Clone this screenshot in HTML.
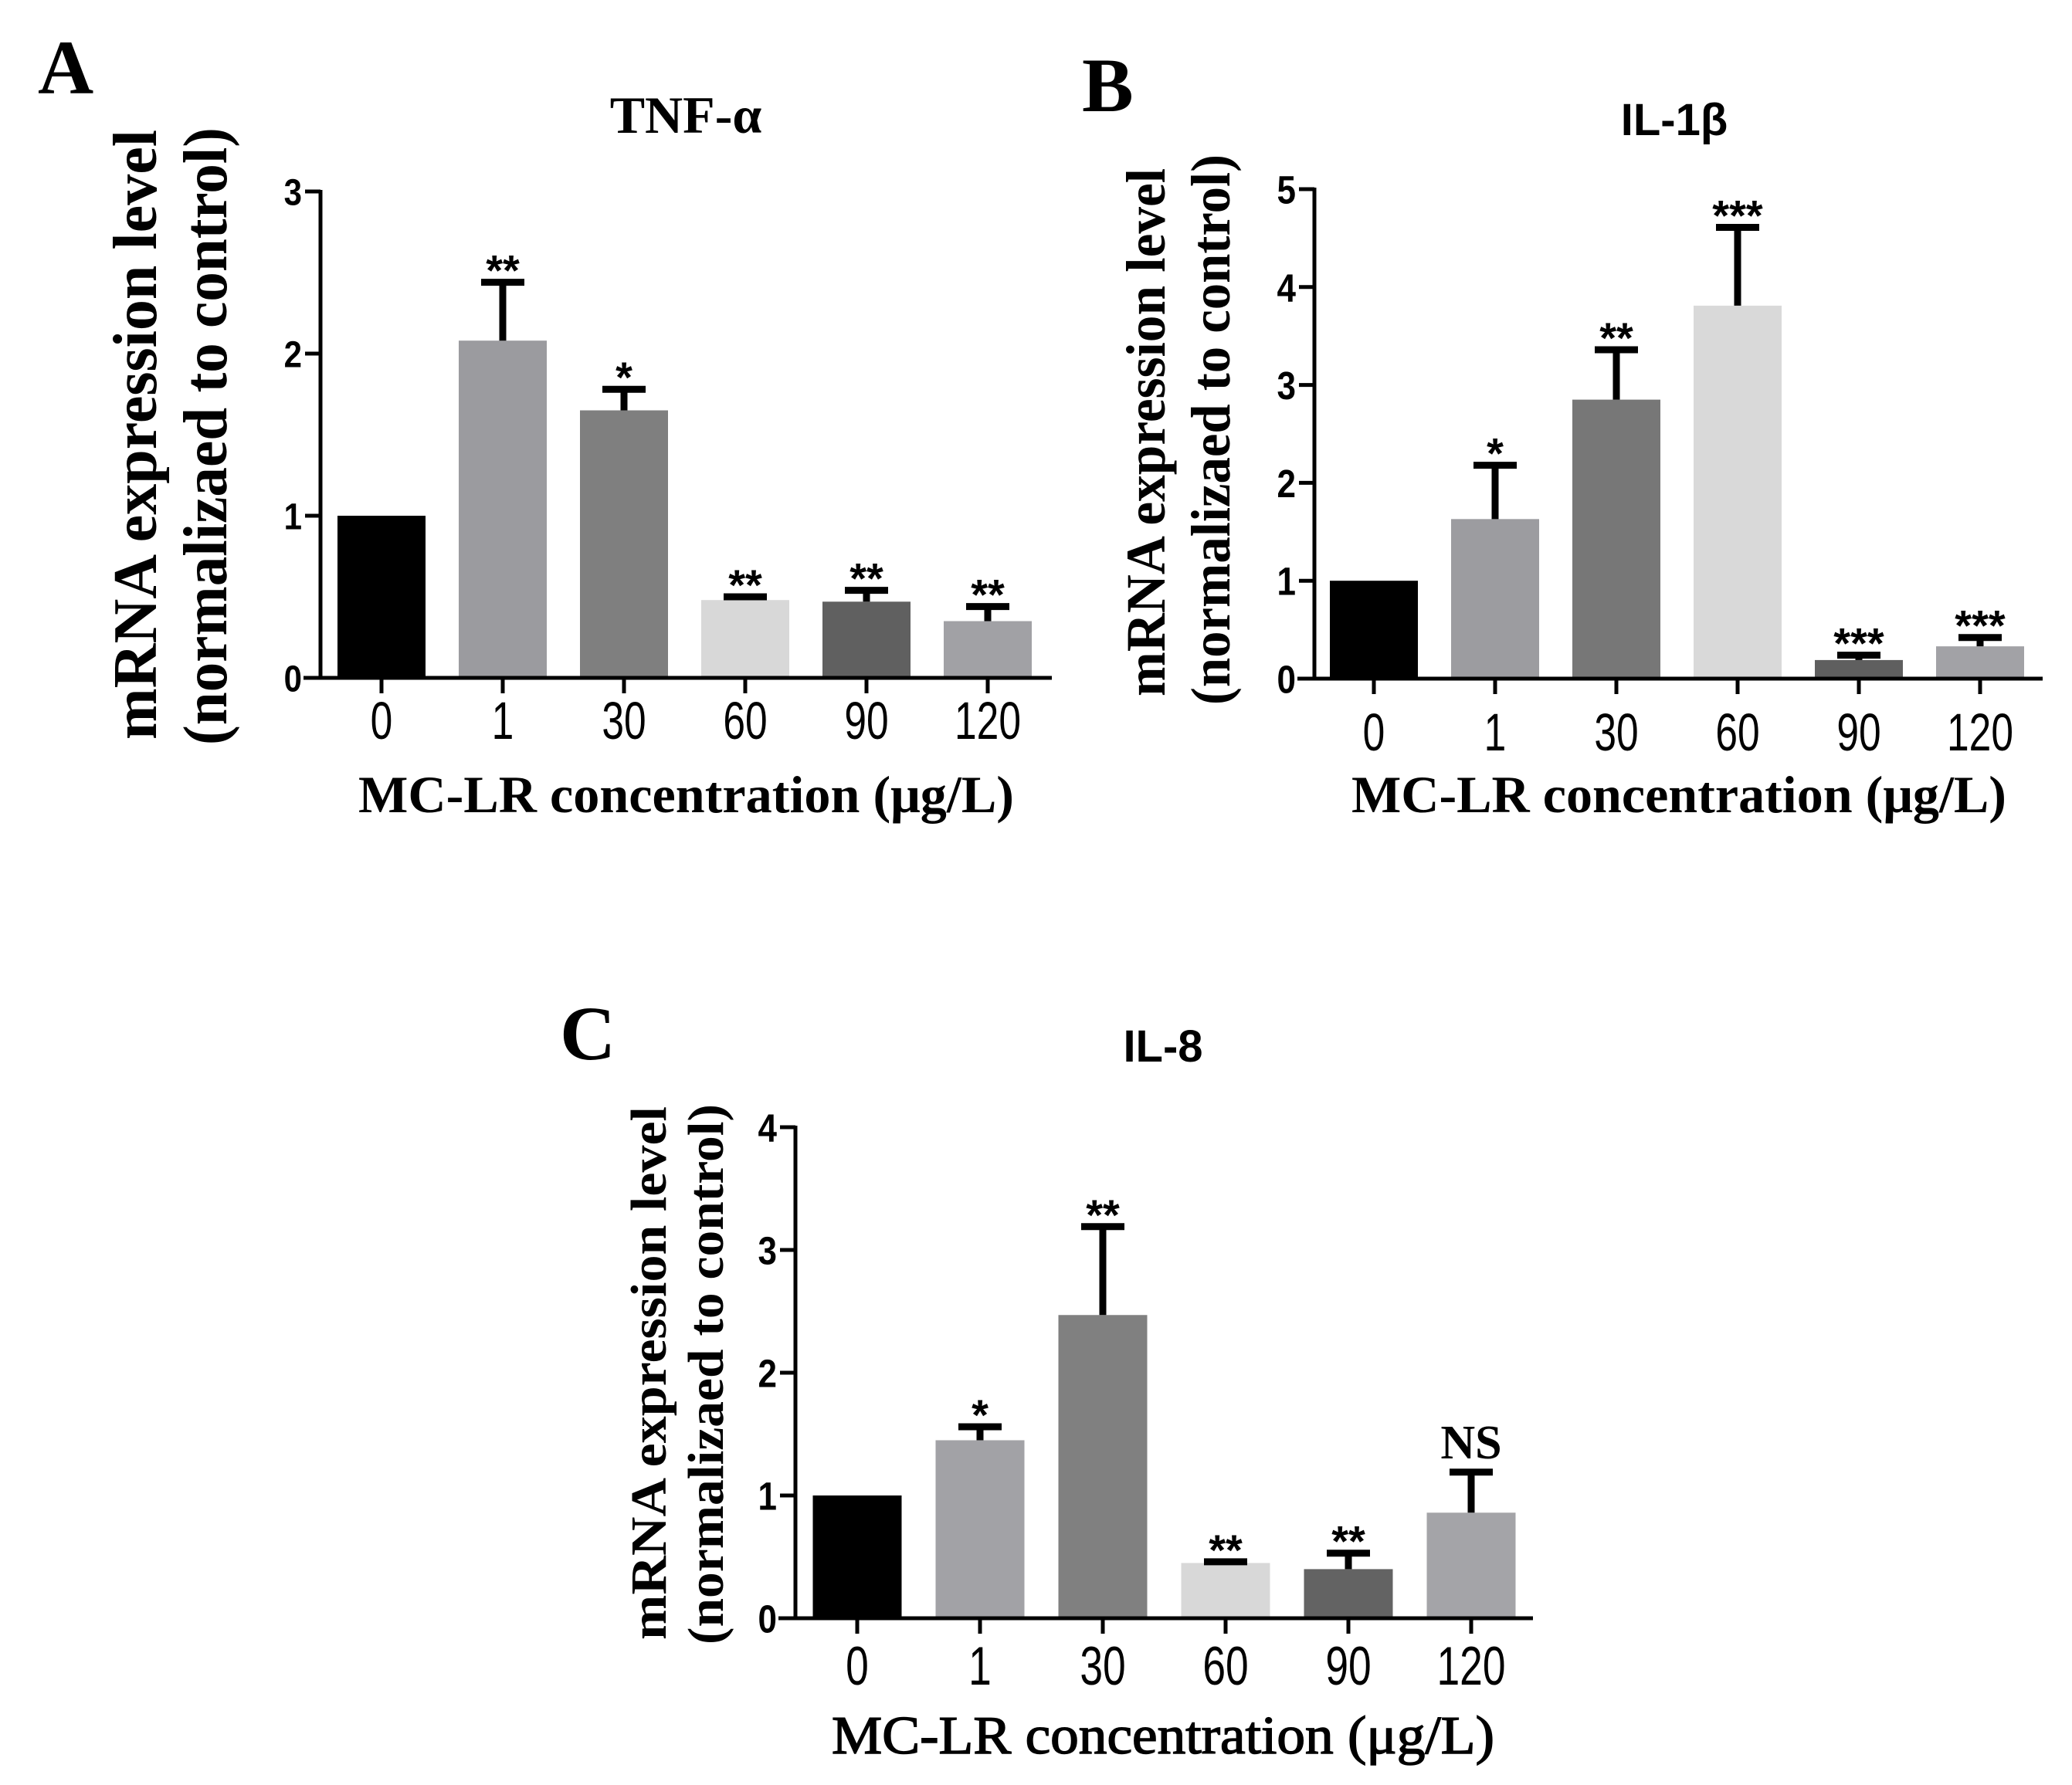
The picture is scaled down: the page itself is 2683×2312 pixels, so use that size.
<!DOCTYPE html>
<html><head><meta charset="utf-8"><style>
html,body{margin:0;padding:0;background:#fff;}
svg{display:block;}
.serif{font-family:"Liberation Serif",serif;}
.sans{font-family:"Liberation Sans",sans-serif;}
</style></head><body>
<svg id="fig" width="2683" height="2312" viewBox="0 0 2683 2312" xmlns="http://www.w3.org/2000/svg">
<rect x="0" y="0" width="2683" height="2312" fill="#ffffff"/>
</svg>
<script>
// Shared categories
const categories = ["0","1","30","60","90","120"];
// Panel A TNF-alpha
const aValues = [1.0, 2.08, 1.65, 0.48, 0.47, 0.35];
const aErrTop = [1.0, 2.44, 1.78, 0.50, 0.54, 0.44];
const aStars = ["", "**", "*", "**", "**", "**"];
const aTicks = [0,1,2,3];
// Panel B IL-1beta
const bValues = [1.0, 1.63, 2.85, 3.81, 0.19, 0.33];
const bErrTop = [1.0, 2.18, 3.36, 4.61, 0.24, 0.42];
const bStars = ["", "*", "**", "***", "***", "***"];
const bTicks = [0,1,2,3,4,5];
// Panel C IL-8
const cValues = [1.0, 1.45, 2.47, 0.45, 0.40, 0.86];
const cErrTop = [1.0, 1.56, 3.19, 0.46, 0.53, 1.19];
const cStars = ["", "*", "**", "**", "**", "NS"];
const cTicks = [0,1,2,3,4];

const NS = "http://www.w3.org/2000/svg";
const svg = document.getElementById("fig");
function mk(tag, attrs, parent, text){
  const e = document.createElementNS(NS, tag);
  for (const k in attrs) e.setAttribute(k, attrs[k]);
  if (text !== undefined) e.textContent = text;
  (parent||svg).appendChild(e);
  return e;
}

function panel(cfg, values, errTop, stars, ticks){
  const g = mk("g", {});
  
  
  const yMax = ticks[ticks.length-1];
  const yScale = v => cfg.y0 - (cfg.y0 - cfg.yTop) * v / yMax;
  const xScale = i => cfg.x0c + i * cfg.step;

  const L = mk("text", {x:cfg.letterX, y:cfg.letterY, class:"serif", "font-size":cfg.letterSize, "font-weight":"bold", fill:"#000"}, g, cfg.letter);
  
  
  const T = mk("text", {x:cfg.titleX, y:cfg.titleY, class:cfg.titleClass, "font-size":cfg.titleSize, "font-weight":"bold", "text-anchor":"middle", fill:"#000"}, g, cfg.title);
  
  

  values.forEach((v,i)=>{
    const cx = xScale(i);
    const top = yScale(v);
    const r = mk("rect", {x:cx - cfg.barW/2, y:top, width:cfg.barW, height:cfg.y0 - top, fill:cfg.colors[i]}, g);
    
    
    if (i > 0) {
      const et = yScale(errTop[i]);
      const eg = mk("g", {stroke:"#000", "stroke-width":9}, g);
      
      
      mk("line", {x1:cx, y1:top, x2:cx, y2:et}, eg);
      mk("line", {x1:cx-28, y1:et, x2:cx+28, y2:et}, eg);
      const s = stars[i];
      let st;
      if (s === "NS") {
        st = mk("text", {x:cx, y:et - 18, class:"serif", "font-size":62, "font-weight":"bold", "text-anchor":"middle", fill:"#000"}, g, s);
      } else {
        st = mk("text", {x:cx, y:et + 4, class:"sans", "font-size":56, "font-weight":"bold", "text-anchor":"middle", fill:"#000"}, g, s);
      }
      
      
    }
  });

  const ax = mk("g", {stroke:"#000", "stroke-width":5, fill:"none"}, g);
  
  
  mk("line", {x1:cfg.xAxis, y1:cfg.yTop - 2, x2:cfg.xAxis, y2:cfg.y0 + 2}, ax);
  mk("line", {x1:cfg.xAxis - 22, y1:cfg.y0, x2:cfg.xEnd, y2:cfg.y0}, ax);
  ticks.forEach(t=>{
    const y = yScale(t);
    mk("line", {x1:cfg.xAxis - 20, y1:y, x2:cfg.xAxis, y2:y}, ax);
    const tl = mk("text", {x:0, y:0, transform:`translate(${cfg.xAxis - 24},${y + cfg.yTickSize*0.42}) scale(1,1.15)`, class:"sans", "font-size":cfg.yTickSize, "font-weight":"bold", "text-anchor":"end", fill:"#000", stroke:"none"}, g, String(t));
    
    
  });
  categories.forEach((c,i)=>{
    const cx = xScale(i);
    mk("line", {x1:cx, y1:cfg.y0, x2:cx, y2:cfg.y0 + 20}, ax);
    const xl = mk("text", {x:0, y:0, transform:`translate(${cx},${cfg.xTickY}) scale(0.92,1.22)`, class:"sans", "font-size":cfg.xTickSize, "text-anchor":"middle", fill:"#000"}, g, c);
    
    
  });

  const xt = mk("text", {x:cfg.xtX, y:cfg.xtY, class:"serif", "font-size":cfg.xtSize, "font-weight":cfg.xtWeight, textLength:cfg.xtLen, lengthAdjust:"spacingAndGlyphs", fill:"#000", stroke:"#000", "stroke-width":cfg.xtStroke}, g, "MC-LR concentration (\u03bcg/L)");
  
  

  const y1 = mk("text", {x:0, y:0, transform:`translate(${cfg.yl1X},${cfg.yl1Start}) rotate(-90)`, class:"serif", "font-size":cfg.ylSize, "font-weight":"bold", textLength:cfg.yl1Len, lengthAdjust:"spacingAndGlyphs", fill:"#000"}, g, "mRNA expression level");
  
  
  const y2 = mk("text", {x:0, y:0, transform:`translate(${cfg.yl2X},${cfg.yl2Start}) rotate(-90)`, class:"serif", "font-size":cfg.ylSize, "font-weight":"bold", textLength:cfg.yl2Len, lengthAdjust:"spacingAndGlyphs", fill:"#000"}, g, "(normalizaed to control)");
  
  
}

panel({id:"tnf-alpha", letter:"A", letterX:49, letterY:121, letterSize:100,
  title:"TNF-\u03b1", titleClass:"serif", titleX:888, titleY:172, titleSize:68,
  xAxis:415, xEnd:1362, y0:878, yTop:248, x0c:494, step:157, barW:114,
  yTickSize:42, xTickSize:56, xTickY:957,
  xtX:464, xtY:1052, xtSize:68, xtWeight:"bold", xtLen:849, xtStroke:0,
  ylSize:80, yl1X:202, yl1Start:958, yl1Len:790, yl2X:293, yl2Start:965, yl2Len:800,
  colors:["#000000","#9b9b9f","#7f7f7f","#d8d8d8","#606060","#a1a1a5"]
}, aValues, aErrTop, aStars, aTicks);

panel({id:"il-1beta", letter:"B", letterX:1401, letterY:144, letterSize:100,
  title:"IL-1\u03b2", titleClass:"sans", titleX:2168, titleY:175, titleSize:58,
  xAxis:1702, xEnd:2645, y0:879, yTop:245, x0c:1779, step:157, barW:114,
  yTickSize:44, xTickSize:56, xTickY:972,
  xtX:1750, xtY:1052, xtSize:68, xtWeight:"bold", xtLen:848, xtStroke:0,
  ylSize:72, yl1X:1508, yl1Start:902, yl1Len:684, yl2X:1592, yl2Start:913, yl2Len:713,
  colors:["#000000","#9c9ca0","#777777","#d9d9d9","#5f5f5f","#a2a2a6"]
}, bValues, bErrTop, bStars, bTicks);

panel({id:"il-8", letter:"C", letterX:725, letterY:1372, letterSize:100,
  title:"IL-8", titleClass:"sans", titleX:1506, titleY:1375, titleSize:58,
  xAxis:1030, xEnd:1985, y0:2096, yTop:1460, x0c:1110, step:159, barW:115,
  yTickSize:44, xTickSize:58, xTickY:2182,
  xtX:1077, xtY:2271, xtSize:70, xtWeight:"normal", xtLen:858, xtStroke:1.5,
  ylSize:66, yl1X:862, yl1Start:2124, yl1Len:691, yl2X:936, yl2Start:2130, yl2Len:700,
  colors:["#000000","#a2a2a6","#808080","#d8d8d8","#636363","#a4a4a8"]
}, cValues, cErrTop, cStars, cTicks);
</script>
</body></html>
